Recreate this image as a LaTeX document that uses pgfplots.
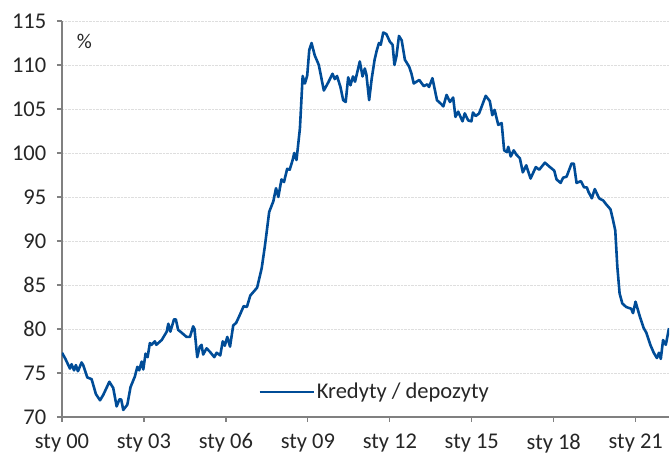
\documentclass[border=0pt]{standalone}
\usepackage{fontspec}
\setmainfont{Carlito}
\usepackage{pgfplots}
\pgfplotsset{compat=1.18}
\definecolor{lineblue}{RGB}{0,76,151}
\definecolor{axgray}{RGB}{128,128,128}
\definecolor{gridgray}{RGB}{222,222,222}
\begin{document}
\fontsize{22.5}{27}\selectfont
\begin{tikzpicture}
\path[use as bounding box] (-62pt,-40pt) rectangle (608pt,417pt);
\begin{axis}[
  at={(0pt,0pt)}, anchor=south west,
  scale only axis, width=607pt, height=396pt,
  xmin=0, xmax=266.6, ymin=70, ymax=115,
  axis lines=left,
  axis line style={-, axgray, line width=1.4pt},
  tick style={axgray, line width=1.2pt},
  tick align=outside,
  major tick length=5pt,
  xtick={0,36,72,108,144,180,216,252},
  xticklabels={sty 00,sty 03,sty 06,sty 09,sty 12,sty 15,sty 18,sty 21},
  ytick={70,75,...,115},
  ymajorgrids,
  major grid style={gridgray, densely dotted, line width=0.8pt},
  /pgf/number format/assume math mode=true,
  ticklabel style={font=\fontsize{22.5}{27}\selectfont, text=black!85},
  yticklabel style={xshift=-3pt},
  xticklabel style={yshift=-4pt},
  clip=true,
  legend style={at={(0.323,0.063)}, anchor=west, draw=none, fill=none, inner sep=0pt,
    font=\fontsize{22.5}{27}\selectfont, text=black!85},
  legend image code/.code={\draw[#1] (0pt,0pt) -- (54pt,0pt);},
]
\addplot[lineblue, line width=2.6pt, line join=round] coordinates {
(0,77.3) (1.5,76.6) (3.5,75.5) (4.2,76.0) (5.3,75.3) (6.1,75.9) (7,75.2) (8.6,76.2) (9.3,75.9)
(11.1,74.5) (13,74.3) (14.9,72.6) (16.7,71.9) (18.1,72.5) (20.8,74.0) (22.5,73.3) (24,71.2)
(25.2,72.0) (26,72.0) (26.9,70.8) (28.7,71.4) (30.1,73.4) (32,74.6) (33.1,75.7) (33.9,75.3)
(35,76.3) (35.7,75.4) (36.7,77.2) (37.6,76.8) (38.6,78.4) (39.3,78.2) (40.8,78.6) (41.4,78.2)
(43.8,78.75) (46,79.7) (46.7,80.6) (47.6,79.7) (49.2,81.1) (50,81.1) (51,79.9) (52,79.7)
(54.7,79.1) (56.2,79.1) (57.6,80.3) (58.2,80.0) (59.4,76.8) (60.5,78.0) (61.3,78.2) (62,77.1)
(63.5,77.8) (65,77.4) (66.9,76.8) (67.9,77.3) (69.5,77.0) (70.6,78.6) (71.5,78.1) (72.6,79.1)
(73.8,78.0) (75.2,80.4) (76.5,80.7) (78.1,81.6) (79.8,82.6) (81.2,82.5) (82.7,83.8) (85.7,84.7)
(87.7,86.9) (89.1,89.4) (91,93.3) (92.8,94.5) (94,96.0) (95,95.0) (96.4,97.0) (97.5,96.7)
(98.9,98.2) (100,98.1) (101.3,99.2) (102,100.0) (103,99.2) (104.5,102.8) (105.7,108.75)
(106.7,107.9) (107.7,108.8) (108.6,111.7) (109.6,112.5) (111,111.1) (112.8,110.0) (115,107.1)
(116.9,108.0) (118.8,109.0) (119.8,108.4) (120.8,108.75) (122.3,107.5) (123.5,106.0)
(124.6,105.8) (125.7,108.6) (126.7,107.7) (127.8,108.7) (128.7,108.1) (130.8,110.4)
(132,108.7) (133,109.6) (133.7,108.9) (134.9,106.0) (136,108.4) (137.3,110.6) (138.2,111.6)
(139.2,112.5) (140,112.3) (141.1,113.7) (142.5,113.5) (144,112.65) (145.2,112.3) (146,110.0)
(146.9,111) (148,113.3) (149.2,112.8) (150.6,110.6) (152.5,109.8) (153.5,109.0) (154.5,107.9)
(156.9,108.3) (158.9,107.6) (160.4,107.8) (161.2,107.5) (162.7,108.5) (164.7,106.0)
(166.4,105.6) (167.5,105.3) (168.9,106.6) (170.4,105.8) (171.8,106.3) (172.8,104.1)
(174,104.7) (175.9,103.6) (176.9,104.5) (178.4,103.7) (179.8,103.6) (180.5,104.6)
(181.7,104.2) (183.2,104.5) (186.1,106.5) (187.9,105.9) (189,104.3) (190,104.9) (191.6,103.2)
(193.1,103.4) (194.2,100.3) (195.4,100.1) (196,100.7) (197.1,99.6) (198.4,100.3) (199.6,99.8)
(201.1,99.4) (202.4,97.8) (203.9,98.6) (205.8,97.1) (208.1,98.4) (209.6,98.1) (212.1,98.9)
(214.3,98.4) (216.2,98.0) (217.2,97.0) (219,96.6) (220.1,97.2) (221.6,97.3) (223.8,98.8)
(224.8,98.8) (226,96.6) (227.9,96.8) (229.3,96.1) (230.5,96.1) (231.2,95.6) (232.7,94.85)
(234,95.9) (235.9,94.85) (237.7,94.6) (238.9,94.2) (240.9,93.6) (242,92.4) (243,91.2)
(243.9,87.1) (244.9,84.05) (246.1,82.9) (247.8,82.5) (250,82.3) (250.8,81.8) (251.9,83.1)
(253.7,81.5) (255.5,80.1) (256.6,79.6) (258.4,78.2) (259.9,77.3) (261.3,76.7) (262.2,77.3)
(263,76.6) (264,78.75) (265.2,78.2) (266.6,80.1)
};
\addlegendentry{Kredyty / depozyty}
\node[font=\fontsize{21}{25}\selectfont, text=black!85] at (rel axis cs:0.037,0.949) {\%};
\end{axis}
\end{tikzpicture}
\end{document}
